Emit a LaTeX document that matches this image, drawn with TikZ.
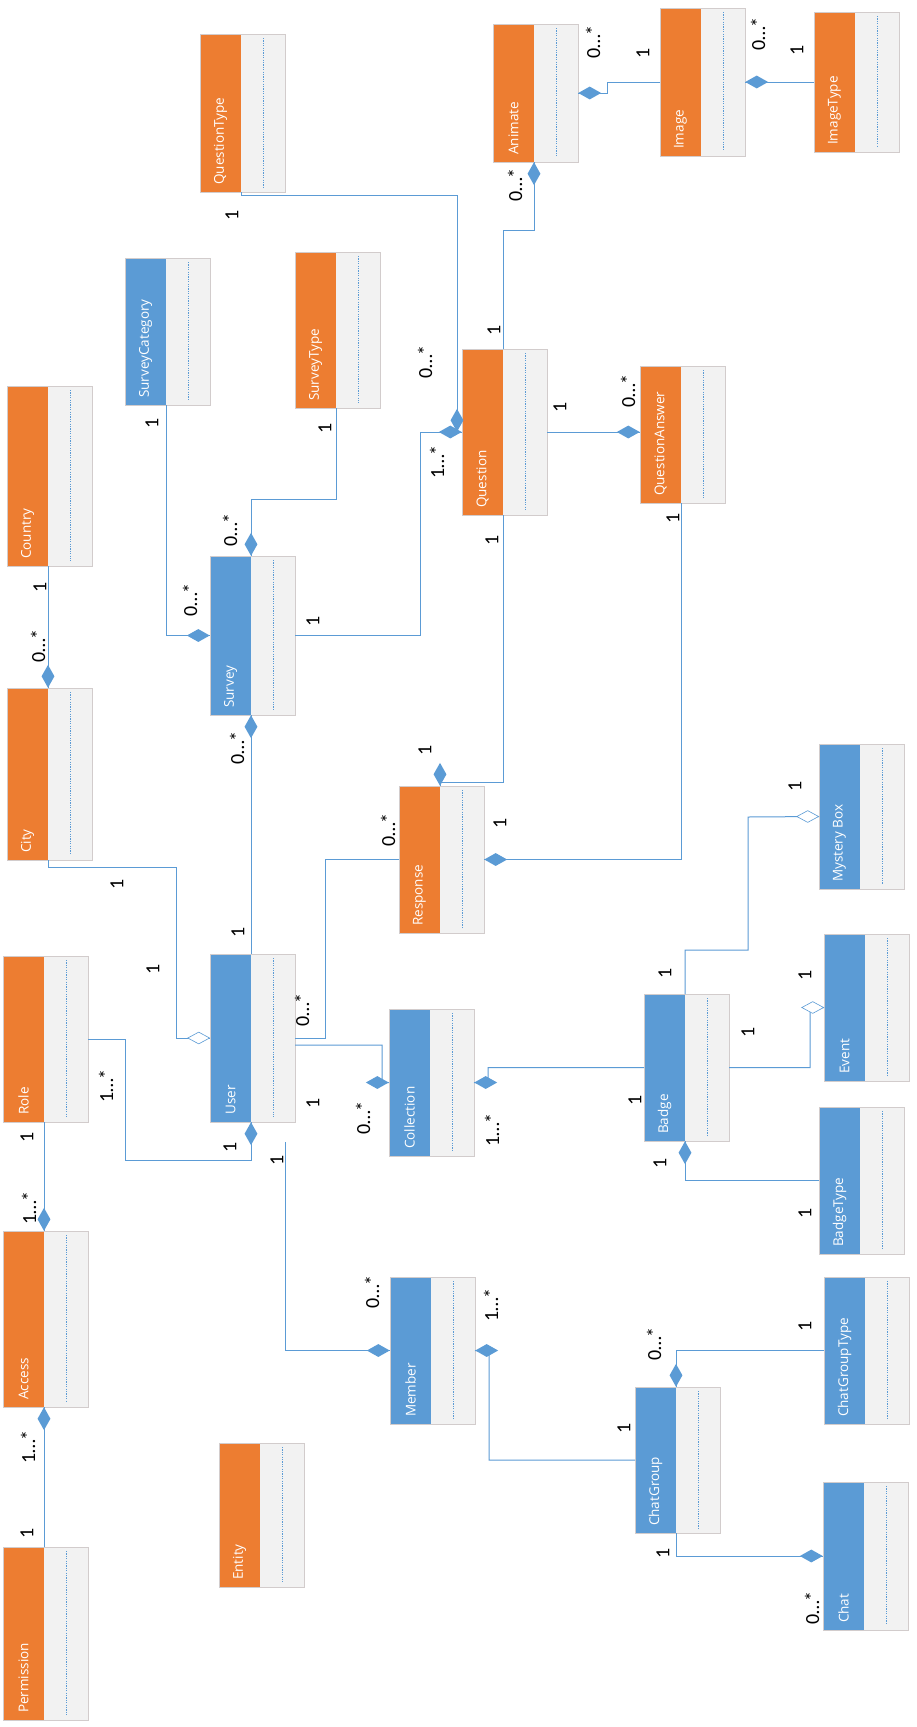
\documentclass[tikz,border=0pt]{standalone}
\usepackage{fontspec}
\setmainfont{Carlito}
\newfontfamily\namefont{Open Sans}
\usepackage{xcolor}
\usetikzlibrary{shapes.geometric}
\definecolor{umlorange}{RGB}{237,125,49}
\definecolor{umlblue}{RGB}{91,155,213}
\definecolor{boxgrey}{RGB}{242,242,242}
\definecolor{boxedge}{RGB}{210,204,204}

\tikzset{
  box/.style={rectangle, fill=boxgrey, minimum width=85pt, inner sep=0pt, outer sep=0pt},
  boxname/.style={rotate=90, anchor=west, text=white, inner sep=0pt,
    font=\namefont\fontsize{13.5}{14}\selectfont},
  attr/.style={umlblue, line width=0.6pt, dash pattern=on 1.2pt off 1.2pt},
  link/.style={umlblue, line width=1pt},
  comp/.style={diamond, fill=umlblue, inner sep=0pt, minimum width=23pt, minimum height=13pt},
  compv/.style={comp, minimum width=13pt, minimum height=23pt},
  aggr/.style={diamond, draw=umlblue, fill=white, line width=0.6pt, inner sep=0pt,
    minimum width=22pt, minimum height=12pt},
  mult/.style={rotate=90, inner sep=0pt, font=\fontsize{20}{20}\selectfont},
}

% class box: name, text, colour, left, top, bottom (pixels)
\newcommand{\entity}[6]{%
  \node[box, minimum height={(#6-#5)*1pt}] (#1) at ({#4+42.5},{(#5+#6)/2}) {};
  \coordinate (#1-t) at ([xshift=41pt]#1.north west);
  \coordinate (#1-d) at ([xshift=41pt]#1.south west);
  \fill[#3] (#1.north west) rectangle (#1-d);
  \draw[attr] ([xshift=63pt,yshift=-4pt]#1.north west) -- ([xshift=63pt,yshift=5pt]#1.south west);
  \draw[boxedge, line width=0.8pt] (#1.north west) rectangle (#1.south east);
  \node[boxname] (#1-name) at ([xshift=20.5pt,yshift=7pt]#1.south west) {#2};
}

\begin{document}
\begin{tikzpicture}[x=1pt, y=-1pt]
\useasboundingbox (0,0) rectangle (916,1727);
\fill[white] (0,0) rectangle (916,1727);

\entity{QuestionType}{QuestionType}{umlorange}{200}{34}{192}
\entity{Animate}{Animate}{umlorange}{493}{24}{162}
\entity{Image}{Image}{umlorange}{660}{8}{156}
\entity{ImageType}{ImageType}{umlorange}{814}{12}{152}
\entity{SurveyCategory}{SurveyCategory}{umlblue}{125}{258}{405}
\entity{SurveyType}{SurveyType}{umlorange}{295}{252}{408}
\entity{Country}{Country}{umlorange}{7}{386}{566}
\entity{Question}{Question}{umlorange}{462}{349}{515}
\entity{QuestionAnswer}{QuestionAnswer}{umlorange}{640}{366}{503}
\entity{Survey}{Survey}{umlblue}{210}{556}{715}
\entity{City}{City}{umlorange}{7}{688}{860}
\entity{Response}{Response}{umlorange}{399}{786}{933}
\entity{MysteryBox}{Mystery Box}{umlblue}{819}{744}{889}
\entity{Role}{Role}{umlorange}{3}{956}{1122}
\entity{User}{User}{umlblue}{210}{954}{1122}
\entity{Collection}{Collection}{umlblue}{389}{1009}{1156}
\entity{Badge}{Badge}{umlblue}{644}{994}{1141}
\entity{Event}{Event}{umlblue}{824}{934}{1081}
\entity{BadgeType}{BadgeType}{umlblue}{819}{1107}{1254}
\entity{Access}{Access}{umlorange}{3}{1231}{1407}
\entity{Member}{Member}{umlblue}{390}{1277}{1424}
\entity{ChatGroupType}{ChatGroupType}{umlblue}{824}{1277}{1424}
\entity{ChatGroup}{ChatGroup}{umlblue}{635}{1387}{1533}
\entity{Entity}{Entity}{umlorange}{219}{1443}{1587}
\entity{Permission}{Permission}{umlorange}{3}{1547}{1720}
\entity{Chat}{Chat}{umlblue}{823}{1482}{1630}

% associations
\draw[link] (Permission-t) -- (Access-d);
\draw[link] (Role-d) -- (Access-t);
\draw[link] (Role.east) -| (125,1160) -| (User-d);
\draw[link] (Country-d) -- (City-t);
\draw[link] (City-d) -- ++(0,7) -| (176,1038) -- (User.west);
\draw[link] (User-t) -- (Survey-d);
\draw[link] (SurveyCategory-d) |- (Survey.west);
\draw[link] (SurveyType-d) -- ++(0,91) -| (Survey-t);
\draw[link] (Survey.east) -| (420,432) -- (Question.west);
\draw[link] (QuestionType-d) -- ++(0,3) -| ([xshift=-5pt]Question.west);
\draw[link] (Question-t) -- ++(0,-119) -| (Animate-d);
\draw[link] (Image.west) -- ++(-53,0) |- (Animate.east);
\draw[link] (ImageType.west) -- (Image.east);
\draw[link] (Question.east) -- (QuestionAnswer.west |- Question.east);
\draw[link] (Question-d) -- ++(0,267) -| (Response-t);
\draw[link] (QuestionAnswer-d) |- (Response.east);
\draw[link] (User.east) -| ([xshift=-74pt]Response.west) -- (Response.west);
\draw[link] ([yshift=-7pt]User.east) -| (382,1083) -- (Collection.west);
\draw[link] (Badge.west) -| (488,1083) -- (Collection.east);
\draw[link] (Badge-t) -- ++(0,-44) -| (748,817) -- (MysteryBox.west);
\draw[link] (Badge.east) -| (810,1008) -- (Event.west);
\draw[link] (BadgeType.west) -| (Badge-d);
\draw[link] ([xshift=75pt,yshift=-20pt]User.south west) |- (Member.west);
\draw[link] (ChatGroup.west) -| (489,1351) -- (Member.east);
\draw[link] (ChatGroupType.west) -| (ChatGroup-t);
\draw[link] (ChatGroup-d) |- (Chat.west);

% diamonds
\node[compv, anchor=north] (dAcc1) at (Access-d) {};
\node[compv, anchor=south] (dAcc2) at (Access-t) {};
\node[compv, anchor=north] (dUser) at (User-d) {};
\node[compv, anchor=south] (dCity) at (City-t) {};
\node[aggr, anchor=east] (aUser) at (User.west) {};
\node[compv, anchor=north] (dSur1) at (Survey-d) {};
\node[comp, anchor=east] (dSur2) at (Survey.west) {};
\node[compv, anchor=south] (dSur3) at (Survey-t) {};
\node[comp, anchor=east] (dQue1) at (Question.west) {};
\node[compv, anchor=south] (dQue2) at ([xshift=-5pt]Question.west) {};
\node[compv, anchor=north] (dAni1) at (Animate-d) {};
\node[comp, anchor=west] (dAni2) at (Animate.east) {};
\node[comp, anchor=west] (dImg) at (Image.east) {};
\node[comp, anchor=east] (dQA) at (QuestionAnswer.west |- Question.east) {};
\node[compv, anchor=south] (dRes1) at (Response-t) {};
\node[comp, anchor=west] (dRes2) at (Response.east) {};
\node[comp, anchor=east] (dCol1) at (Collection.west) {};
\node[comp, anchor=west] (dCol2) at (Collection.east) {};
\node[aggr, anchor=east] (aMB) at (MysteryBox.west) {};
\node[aggr, anchor=east] (aEv) at (Event.west) {};
\node[compv, anchor=north] (dBad) at (Badge-d) {};
\node[comp, anchor=east] (dMem1) at (Member.west) {};
\node[comp, anchor=west] (dMem2) at (Member.east) {};
\node[compv, anchor=south] (dCG) at (ChatGroup-t) {};
\node[comp, anchor=east] (dChat) at (Chat.west) {};

% multiplicities
\node[mult] (m1) at (27,1533) {1};
\node[mult] (m2) at (28,1447) {1…*};
\node[mult] (m3) at (27,1137) {1};
\node[mult] (m4) at (29,1208) {1…*};
\node[mult] (m5) at (106,1086) {1…*};
\node[mult] (m6) at (230,1147) {1};
\node[mult] (m7) at (40,587) {1};
\node[mult] (m8) at (38,646) {0…*};
\node[mult] (m9) at (117,884) {1};
\node[mult] (m10) at (153,969) {1};
\node[mult] (m11) at (152,423) {1};
\node[mult] (m12) at (190,600) {0…*};
\node[mult] (m13) at (325,428) {1};
\node[mult] (m14) at (230,530) {0…*};
\node[mult] (m15) at (313,621) {1};
\node[mult] (m16) at (437,462) {1…*};
\node[mult] (m17) at (237,748) {0…*};
\node[mult] (m18) at (238,932) {1};
\node[mult] (m19) at (232,215) {1};
\node[mult] (m20) at (425,362) {0…*};
\node[mult] (m21) at (494,330) {1};
\node[mult] (m22) at (515,185) {0…*};
\node[mult] (m23) at (643,53) {1};
\node[mult] (m24) at (593,42) {0…*};
\node[mult] (m25) at (797,50) {1};
\node[mult] (m26) at (758,34) {0…*};
\node[mult] (m27) at (560,407) {1};
\node[mult] (m28) at (628,391) {0…*};
\node[mult] (m29) at (492,540) {1};
\node[mult] (m30) at (425,750) {1};
\node[mult] (m31) at (673,518) {1};
\node[mult] (m32) at (500,823) {1};
\node[mult] (m33) at (302,1010) {0…*};
\node[mult] (m34) at (388,830) {0…*};
\node[mult] (m35) at (313,1103) {1};
\node[mult] (m36) at (363,1118) {0…*};
\node[mult] (m37) at (635,1100) {1};
\node[mult] (m38) at (492,1130) {1…*};
\node[mult] (m39) at (665,973) {1};
\node[mult] (m40) at (795,786) {1};
\node[mult] (m41) at (748,1032) {1};
\node[mult] (m42) at (805,975) {1};
\node[mult] (m43) at (660,1163) {1};
\node[mult] (m44) at (805,1213) {1};
\node[mult] (m45) at (277,1160) {1};
\node[mult] (m46) at (372,1292) {0…*};
\node[mult] (m47) at (624,1428) {1};
\node[mult] (m48) at (491,1305) {1…*};
\node[mult] (m49) at (654,1344) {0…*};
\node[mult] (m50) at (805,1326) {1};
\node[mult] (m51) at (663,1553) {1};
\node[mult] (m52) at (812,1608) {0…*};
\end{tikzpicture}
\end{document}
